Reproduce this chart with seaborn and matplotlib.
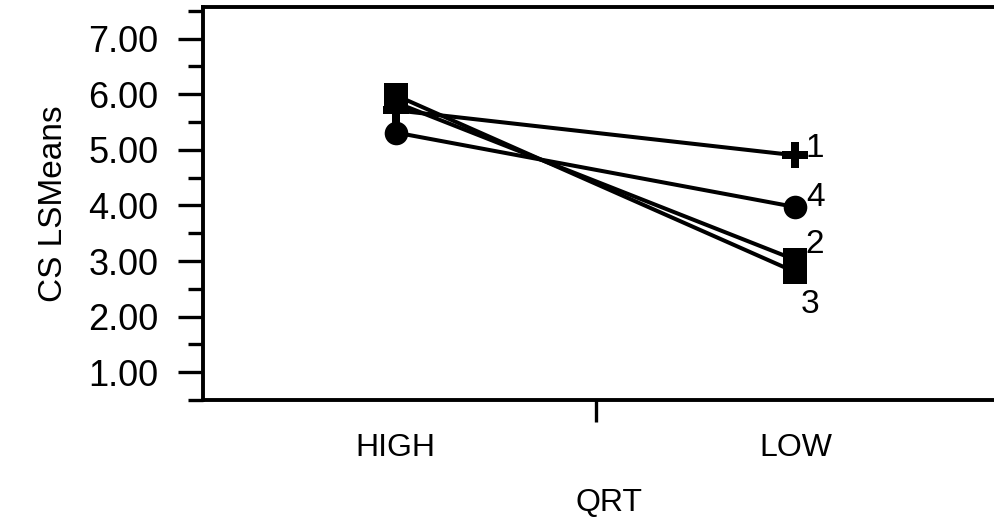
import pandas as pd
import numpy as np
import matplotlib
matplotlib.use("Agg")
import matplotlib.pyplot as plt
import seaborn as sns
from matplotlib.ticker import MultipleLocator, FixedLocator

# data
qrt_levels = ["HIGH", "LOW"]
groups = ["1", "2", "3", "4"]
means_high = [5.71, 5.85, 5.98, 5.31]
means_low = [4.90, 3.02, 2.80, 3.97]
markers = {"1": "P", "2": "s", "3": "s", "4": "o"}
label_offsets = {"1": (7, 5), "2": (7, 11), "3": (4, -23), "4": (8, 7)}

rows = []
for g, hi, lo in zip(groups, means_high, means_low):
    rows.append({"group": g, "qrt": 1, "mean": hi})
    rows.append({"group": g, "qrt": 2, "mean": lo})
df = pd.DataFrame(rows)

sns.set_style("ticks")
plt.rcParams["font.family"] = ["Liberation Sans", "DejaVu Sans"]
plt.rcParams["text.color"] = "black"
plt.rcParams["axes.labelcolor"] = "black"
plt.rcParams["xtick.color"] = "black"
plt.rcParams["ytick.color"] = "black"

fig = plt.figure(figsize=(9.95, 5.25), dpi=100)
# axes runs off the right edge, like the scanned original
ax = fig.add_axes([0.204, 0.238, 0.816, 0.749])

sns.lineplot(data=df, x="qrt", y="mean", hue="group", style="group",
             palette={g: "black" for g in groups}, markers=markers, dashes=False,
             markersize=17, markeredgewidth=0, linewidth=2.9, legend=False, ax=ax)
# the plus symbol is drawn a bit heavier in the original
for line in ax.lines:
    if line.get_marker() == "P":
        line.set_markersize(19)

for g, lo in zip(groups, means_low):
    ax.annotate(g, xy=(2, lo), xytext=label_offsets[g], textcoords="offset points",
                fontsize=24, va="center", ha="left", color="black")

ax.set_xlim(0.518, 2.549)
ax.set_ylim(0.5, 7.57)

ax.set_xticks([1, 2])
ax.set_xticklabels(qrt_levels)
ax.xaxis.set_minor_locator(FixedLocator([1.5]))
ax.tick_params(axis="x", which="major", length=0, pad=24, labelsize=23)
ax.tick_params(axis="x", which="minor", length=16, width=2.4, color="black")

ax.yaxis.set_major_locator(MultipleLocator(1))
ax.yaxis.set_minor_locator(MultipleLocator(0.5))
ax.set_yticks(np.arange(1, 8))
ax.set_yticklabels(["%.2f" % v for v in np.arange(1, 8)])
ax.tick_params(axis="y", which="major", length=18, width=2.4, pad=14, labelsize=26)
ax.tick_params(axis="y", which="minor", length=11, width=2.4)

ax.set_xlabel("QRT", fontsize=23, labelpad=18)
ax.set_ylabel("CS LSMeans", fontsize=24, labelpad=14)

for side in ["left", "bottom", "top"]:
    ax.spines[side].set_linewidth(2.8)
    ax.spines[side].set_color("black")
ax.spines["right"].set_visible(False)

fig.savefig("out.png", dpi=100)
